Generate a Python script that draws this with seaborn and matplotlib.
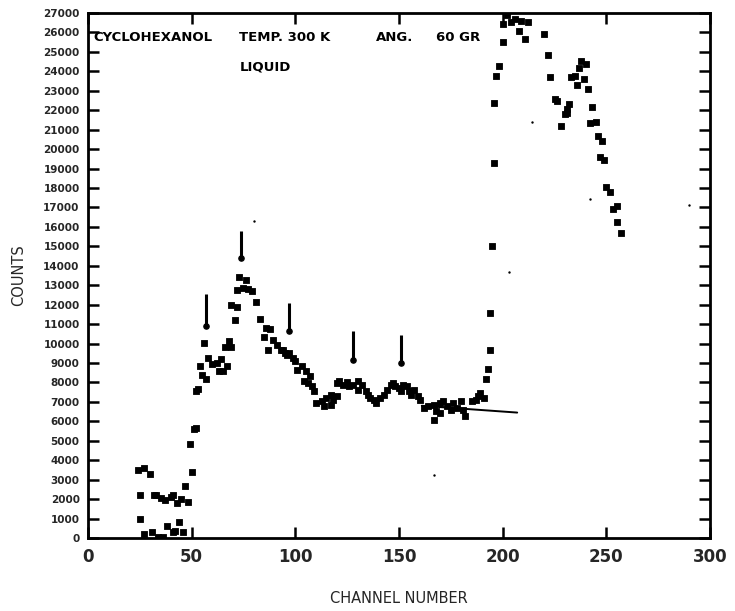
import matplotlib
matplotlib.use("Agg")
import matplotlib.pyplot as plt
import seaborn as sns
import pandas as pd

# ---- data ----
channels = [24, 25, 25, 27, 27, 30, 31, 32, 33, 34, 35, 36, 37, 38, 40, 41, 41, 42, 43, 44,
            45, 46, 47, 48, 49, 50, 51, 52, 52, 53, 54, 55, 56, 57, 58, 60, 62, 63, 64, 65,
            66, 67, 68, 69, 69, 71, 72, 72, 73, 75, 76, 77, 79, 81, 83, 85, 86, 87, 88, 89,
            91, 93, 94, 95, 96, 97, 99, 100, 101, 103, 104, 105, 106, 107, 108, 109, 110, 113, 114, 115,
            117, 117, 118, 120, 120, 121, 123, 125, 126, 128, 130, 130, 132, 134, 135, 136, 138, 139, 141, 143,
            144, 146, 147, 148, 150, 151, 152, 154, 155, 156, 157, 159, 160, 162, 164, 167, 167, 168, 170, 170,
            171, 173, 175, 176, 178, 180, 181, 182, 185, 187, 188, 189, 191, 192, 193, 194, 194, 195, 196, 196,
            197, 198, 200, 200, 202, 204, 206, 208, 209, 211, 212, 220, 222, 223, 225, 226, 228, 230, 231, 231,
            232, 233, 235, 236, 237, 238, 239, 240, 241, 242, 243, 245, 246, 247, 248, 249, 250, 252, 253, 255,
            255, 257]
counts = [3500, 2200, 1000, 3600, 200, 3300, 300, 2200, 2200, 50, 2050, 30, 1960, 630, 2100, 2200, 330, 380, 1790, 840,
          2030, 290, 2650, 1860, 4850, 3370, 5620, 5650, 7540, 7650, 8830, 8370, 10030, 8180, 9260, 8970, 9000, 8600, 9210, 8570,
          9810, 8830, 10120, 9810, 11960, 11200, 11870, 12750, 13420, 12870, 13260, 12780, 12700, 12130, 11270, 10340, 10810, 9690, 10760, 10200,
          9950, 9690, 9650, 9520, 9430, 9520, 9260, 9090, 8660, 8830, 8060, 8570, 7970, 8310, 7800, 7540, 6940, 7030, 6770, 7200,
          7370, 6860, 7110, 7280, 7970, 8060, 7890, 8000, 7800, 7890, 7630, 8060, 7890, 7540, 7370, 7200, 7110, 6940, 7200, 7370,
          7630, 7890, 7970, 7800, 7720, 7540, 7890, 7800, 7540, 7370, 7630, 7280, 7110, 6680, 6770, 6860, 6080, 6510, 6940, 6420,
          7030, 6770, 6600, 6940, 6680, 7030, 6600, 6250, 7030, 7110, 7280, 7460, 7200, 8200, 8700, 9650, 11580, 15020, 19280, 22350,
          23750, 24260, 25500, 26440, 26900, 26530, 26700, 26100, 26600, 25670, 26530, 25900, 24850, 23720, 22580, 22490, 21170, 21800, 22060, 21850,
          22320, 23700, 23750, 23300, 24160, 24550, 23610, 24380, 23090, 21340, 22150, 21370, 20650, 19570, 20430, 19450, 18030, 17770, 16940, 17050,
          16250, 15700]

speck_channels = [80, 167, 203, 214, 242, 290]
speck_counts = [16300, 3250, 13700, 21380, 17420, 17130]

arrow_channels = [57, 74, 97, 128, 151]
arrow_tops = [12530, 15790, 12110, 10630, 10430]
arrow_bottoms = [10890, 14380, 10620, 9140, 9000]

baseline_channels = [161, 207]
baseline_counts = [6800, 6450]

x_ticks = [0, 50, 100, 150, 200, 250, 300]
y_ticks = list(range(0, 27001, 1000))

df = pd.DataFrame({"channel": channels, "counts": counts})
df_speck = pd.DataFrame({"channel": speck_channels, "counts": speck_counts})

# ---- figure ----
sns.set_style("ticks")
plt.rcParams["font.family"] = ["DejaVu Sans"]

fig = plt.figure(figsize=(7.35, 6.11), dpi=100)
ax = fig.add_axes([0.1197, 0.1195, 0.8463, 0.8592])

sns.scatterplot(data=df, x="channel", y="counts", ax=ax, marker="s", s=16,
                color="black", edgecolor="black", linewidth=0.6, clip_on=True, legend=False)
sns.scatterplot(data=df_speck, x="channel", y="counts", ax=ax, marker="o", s=3,
                color="black", edgecolor="black", linewidth=0, legend=False)

# indicator lines with dot at their lower end
ax.vlines(arrow_channels, arrow_bottoms, arrow_tops, color="black", linewidth=2.2)
ax.scatter(arrow_channels, arrow_bottoms, marker="o", s=14, color="black", zorder=3)

# background line
ax.plot(baseline_channels, baseline_counts, color="black", linewidth=1.4)

ax.set_xlim(0, 300)
ax.set_ylim(0, 27000)
ax.set_xticks(x_ticks)
ax.set_yticks(y_ticks)
ax.set_xticklabels([str(t) for t in x_ticks], fontsize=12, fontweight="bold")
ax.set_yticklabels([str(t) for t in y_ticks], fontsize=7.5, fontweight="bold")

ax.tick_params(axis="both", direction="in", length=8, width=1.8,
               top=True, right=True, color="black")
ax.tick_params(axis="x", pad=7)
ax.tick_params(axis="y", pad=6)

for sp in ax.spines.values():
    sp.set_linewidth(2.0)
    sp.set_color("black")
    sp.set_visible(True)

ax.set_xlabel("CHANNEL NUMBER", fontsize=10.5, labelpad=18)
ax.set_ylabel("COUNTS", fontsize=10.5, labelpad=12)

# annotation text
txt_kw = dict(fontsize=9.5, fontweight="bold", va="center", ha="left", color="black")
ax.text(2.5, 25750, "CYCLOHEXANOL", **txt_kw)
ax.text(73, 25750, "TEMP. 300 K", **txt_kw)
ax.text(139, 25750, "ANG.", **txt_kw)
ax.text(168, 25750, "60 GR", **txt_kw)
ax.text(73, 24200, "LIQUID", **txt_kw)

ax.grid(False)
fig.savefig("out.png", dpi=100)
